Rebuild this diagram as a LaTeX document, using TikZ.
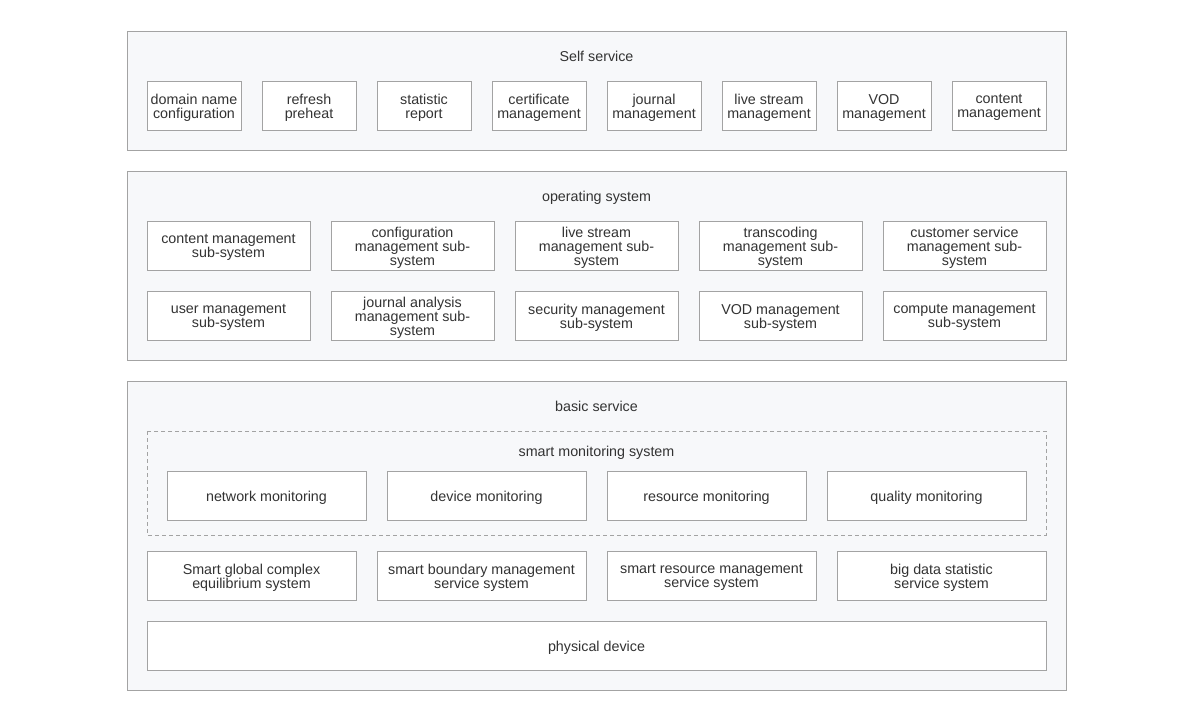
\documentclass[tikz,border=0pt]{standalone}
\usepackage{fontspec}
\setmainfont{Liberation Sans}
\definecolor{bordc}{HTML}{A3A3A3}
\definecolor{panelc}{HTML}{F7F8FA}
\definecolor{txtc}{HTML}{333333}
\begin{document}
\begin{tikzpicture}[x=1pt,y=-1pt,
  panel/.style={draw=bordc,fill=panelc,line width=0.9pt},
  dashpanel/.style={draw=bordc,dashed,dash pattern=on 4pt off 3pt,line width=0.8pt},
  item/.style={draw=bordc,fill=white,line width=0.9pt},
  lbl/.style={text=txtc,font=\fontsize{14.3}{14}\selectfont,align=center,inner sep=0pt,yshift=-1.5pt,
    execute at begin node={\vphantom{Hdg}},execute at end node={\vphantom{Hdg}}},
]
\useasboundingbox (0,0) rectangle (1200,719);
\fill[white] (0,0) rectangle (1200,719);
% panels
\draw[panel] (127,31) rectangle (1066,150);
\node[lbl] (t1) at (596.5,56) {Self service};
\draw[panel] (127,171) rectangle (1066,360);
\node[lbl] (t2) at (596.5,196) {operating system};
\draw[panel] (127,381) rectangle (1066,690);
\node[lbl] (t3) at (596.5,406) {basic service};
\draw[dashpanel] (147,431) rectangle (1046,535);
\node[lbl] (t4) at (596.5,451) {smart monitoring system};
% self service row
\foreach \i/\t in {0/{domain name\\configuration},1/{refresh\\preheat},2/{statistic\\report},3/{certificate\\management},4/{journal\\management},5/{live stream\\management},6/{VOD\\management},7/{content\\management}}{
  \draw[item] (147+115*\i,81) rectangle ++(94,49);
  \node[lbl] (s\i) at (194+115*\i,106) {\t};
}
% operating system rows
\foreach \i/\t in {0/{content management\\sub-system},1/{configuration\\management sub-\\system},2/{live stream\\management sub-\\system},3/{transcoding\\management sub-\\system},4/{customer service\\management sub-\\system}}{
  \draw[item] (147+184*\i,221) rectangle ++(163,49);
  \node[lbl] (o\i) at (228.5+184*\i,246) {\t};
}
\foreach \i/\t in {0/{user management\\sub-system},1/{journal analysis\\management sub-\\system},2/{security management\\sub-system},3/{VOD management\\sub-system},4/{compute management\\sub-system}}{
  \draw[item] (147+184*\i,291) rectangle ++(163,49);
  \node[lbl] (p\i) at (228.5+184*\i,316) {\t};
}
% monitoring
\foreach \i/\t in {0/{network monitoring},1/{device monitoring},2/{resource monitoring},3/{quality monitoring}}{
  \draw[item] (167+220*\i,471) rectangle ++(199,49);
  \node[lbl] (m\i) at (266.5+220*\i,496) {\t};
}
% systems
\foreach \i/\t in {0/{Smart global complex\\equilibrium system},1/{smart boundary management\\service system},2/{smart resource management\\service system},3/{big data statistic\\service system}}{
  \draw[item] (147+230*\i,551) rectangle ++(209,49);
  \node[lbl] (b\i) at (251.5+230*\i,576) {\t};
}
\draw[item] (147,621) rectangle (1046,670);
\node[lbl] (pd) at (596.5,646) {physical device};
\end{tikzpicture}
\end{document}
